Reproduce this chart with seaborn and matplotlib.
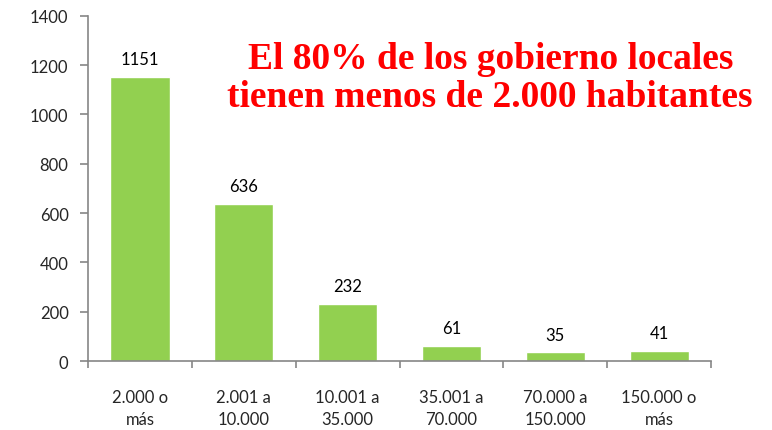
import matplotlib
matplotlib.use("Agg")
import matplotlib.pyplot as plt
import seaborn as sns
import pandas as pd

# data
categories = ["2.000 o\nmás", "2.001 a\n10.000", "10.001 a\n35.000",
              "35.001 a\n70.000", "70.000 a\n150.000", "150.000 o\nmás"]
counts = [1151, 636, 232, 61, 35, 41]
y_ticks = [0, 200, 400, 600, 800, 1000, 1200, 1400]
title_lines = ["El 80% de los gobierno locales", "tienen menos de 2.000 habitantes"]

df = pd.DataFrame({"rango": categories, "n": counts})

sns.set_theme(style="white")
plt.rcParams["font.family"] = ["Lato", "DejaVu Sans"]

fig = plt.figure(figsize=(7.72, 4.31), dpi=100)
ax = fig.add_axes([0.114, 0.160, 0.807, 0.801])

sns.barplot(data=df, x="rango", y="n", color="#92D050", saturation=1,
            width=0.57, ax=ax)

# value labels
for i, v in enumerate(counts):
    ax.annotate(str(v), (i, v), xytext=(0, 7), textcoords="offset points",
                ha="center", va="bottom", fontsize=12, color="black")

ax.set_ylim(0, 1400)
ax.set_xlim(-0.5, len(categories) - 0.5)
ax.set_yticks(y_ticks)
ax.set_yticklabels([str(t) for t in y_ticks], fontsize=12)

# tick marks between categories, labels centred under bars
ax.set_xticks([i - 0.5 for i in range(len(categories) + 1)])
ax.set_xticklabels([])
ax.set_xticks(range(len(categories)), minor=True)
ax.set_xticklabels(categories, minor=True, fontsize=12, linespacing=1.45)
ax.tick_params(axis="x", which="minor", bottom=True, length=0, pad=20)
ax.tick_params(axis="x", which="major", bottom=True, length=5, width=1.2,
               color="#868686", direction="out")
ax.tick_params(axis="y", left=True, length=6, width=1.2, color="#868686",
               direction="out", pad=8)
ax.set_xlabel("")
ax.set_ylabel("")

for side in ["top", "right"]:
    ax.spines[side].set_visible(False)
for side in ["left", "bottom"]:
    ax.spines[side].set_color("#868686")
    ax.spines[side].set_linewidth(1.2)

fig.text(0.635, 0.818, "\n".join(title_lines), ha="center", va="center",
         fontsize=27, fontweight="bold", color="#FF0000",
         family="Liberation Serif", linespacing=1.1)

plt.savefig("out.png", dpi=100)
plt.close()
